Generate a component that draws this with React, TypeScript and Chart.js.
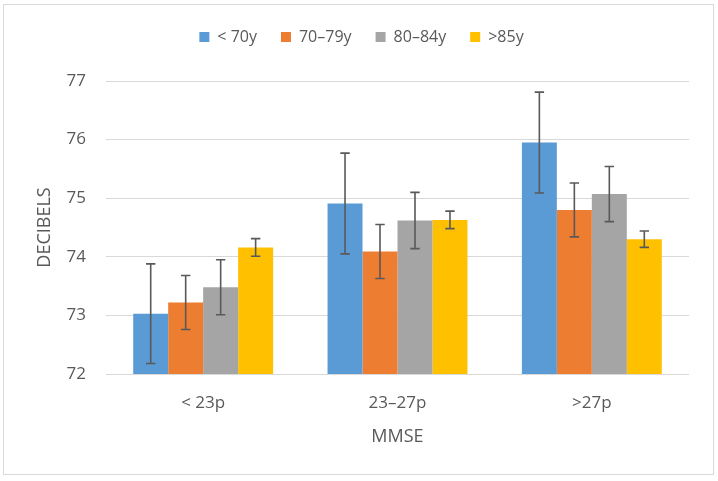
import { useEffect, useRef } from "react";
import { Chart, registerables, Plugin } from "chart.js";

Chart.register(...registerables);

const mmseGroups = ["< 23p", "23–27p", ">27p"];
const ageGroups = ["< 70y", "70–79y", "80–84y", ">85y"];

// mean hearing level (dB) per MMSE group
const under70 = [73.03, 74.91, 75.95];
const age70to79 = [73.22, 74.09, 74.8];
const age80to84 = [73.48, 74.62, 75.07];
const over85 = [74.16, 74.63, 74.3];

// +/- error per bar
const under70Err = [0.85, 0.86, 0.86];
const age70to79Err = [0.46, 0.46, 0.46];
const age80to84Err = [0.47, 0.48, 0.47];
const over85Err = [0.15, 0.15, 0.14];

const yTicks = [72, 73, 74, 75, 76, 77];

const seriesValues = [under70, age70to79, age80to84, over85];
const seriesErrors = [under70Err, age70to79Err, age80to84Err, over85Err];
const seriesColors = ["#5b9bd5", "#ed7d31", "#a5a5a5", "#ffc000"];

const textColor = "#595959";
const fontFamily = "'Open Sans', sans-serif";

const errorBars: Plugin<"bar"> = {
	id: "errorBars",
	afterDatasetsDraw(chart) {
		const { ctx } = chart;
		const yScale = chart.scales.y;
		ctx.save();
		ctx.strokeStyle = "#595959";
		ctx.lineWidth = 1.6;
		chart.data.datasets.forEach((_, di) => {
			const meta = chart.getDatasetMeta(di);
			meta.data.forEach((bar, i) => {
				const mean = seriesValues[di][i];
				const err = seriesErrors[di][i];
				const top = yScale.getPixelForValue(mean + err);
				const bottom = yScale.getPixelForValue(mean - err);
				const x = bar.x;
				ctx.beginPath();
				ctx.moveTo(x, top);
				ctx.lineTo(x, bottom);
				ctx.moveTo(x - 4.7, top);
				ctx.lineTo(x + 4.7, top);
				ctx.moveTo(x - 4.7, bottom);
				ctx.lineTo(x + 4.7, bottom);
				ctx.stroke();
			});
		});
		ctx.restore();
	},
};

const App = () => {
	const chartRef = useRef<HTMLCanvasElement | null>(null);

	useEffect(() => {
		document.body.style.margin = "0";
		if (!chartRef.current) return;
		const ctx = chartRef.current.getContext("2d");
		if (!ctx) return;

		const myChart = new Chart(ctx, {
			type: "bar",
			data: {
				labels: mmseGroups,
				datasets: ageGroups.map((name, i) => ({
					label: name,
					data: seriesValues[i],
					backgroundColor: seriesColors[i],
					borderWidth: 0,
					categoryPercentage: 0.72,
					barPercentage: 1,
				})),
			},
			options: {
				animation: false,
				responsive: false,
				layout: { padding: { left: 34, right: 29, top: 5, bottom: 6 } },
				plugins: {
					legend: {
						position: "top",
						labels: {
							boxWidth: 10,
							boxHeight: 10,
							padding: 24,
							color: textColor,
							font: { family: fontFamily, size: 16 },
						},
					},
					tooltip: { enabled: false },
				},
				scales: {
					xTop: {
						type: "category",
						position: "top",
						grid: { display: false },
						border: { display: false },
						ticks: { display: false },
						afterFit: (s) => {
							s.height = 26;
						},
					},
					x: {
						grid: { display: false },
						border: { display: false },
						ticks: {
							padding: 11,
							color: textColor,
							font: { family: fontFamily, size: 17 },
						},
						title: {
							display: true,
							text: "MMSE",
							color: textColor,
							font: { family: fontFamily, size: 18 },
							padding: { top: 0, bottom: 27 },
						},
						afterFit: (s) => {
							s.height = 101;
						},
					},
					y: {
						min: 72,
						max: 77,
						afterBuildTicks: (s) => {
							s.ticks = yTicks.map((v) => ({ value: v }));
						},
						grid: { color: "#d9d9d9", lineWidth: 1, drawTicks: false },
						border: { display: false },
						ticks: {
							padding: 20,
							color: textColor,
							font: { family: fontFamily, size: 17 },
						},
						title: {
							display: true,
							text: "DECIBELS",
							color: textColor,
							font: { family: fontFamily, size: 18 },
							padding: { top: 0, bottom: 0 },
						},
						afterFit: (s) => {
							s.width = 72;
						},
					},
				},
			},
			plugins: [errorBars],
		});

		return () => {
			myChart.destroy();
		};
	}, []);

	return (
		<div style={{ position: "relative", width: 718, height: 481, background: "#fff" }}>
			<canvas ref={chartRef} width={718} height={481} />
			<div
				style={{
					position: "absolute",
					left: 3,
					top: 4,
					width: 711,
					height: 471,
					border: "1px solid #d9d9d9",
					boxSizing: "border-box",
					pointerEvents: "none",
				}}
			/>
		</div>
	);
};

export default App;
